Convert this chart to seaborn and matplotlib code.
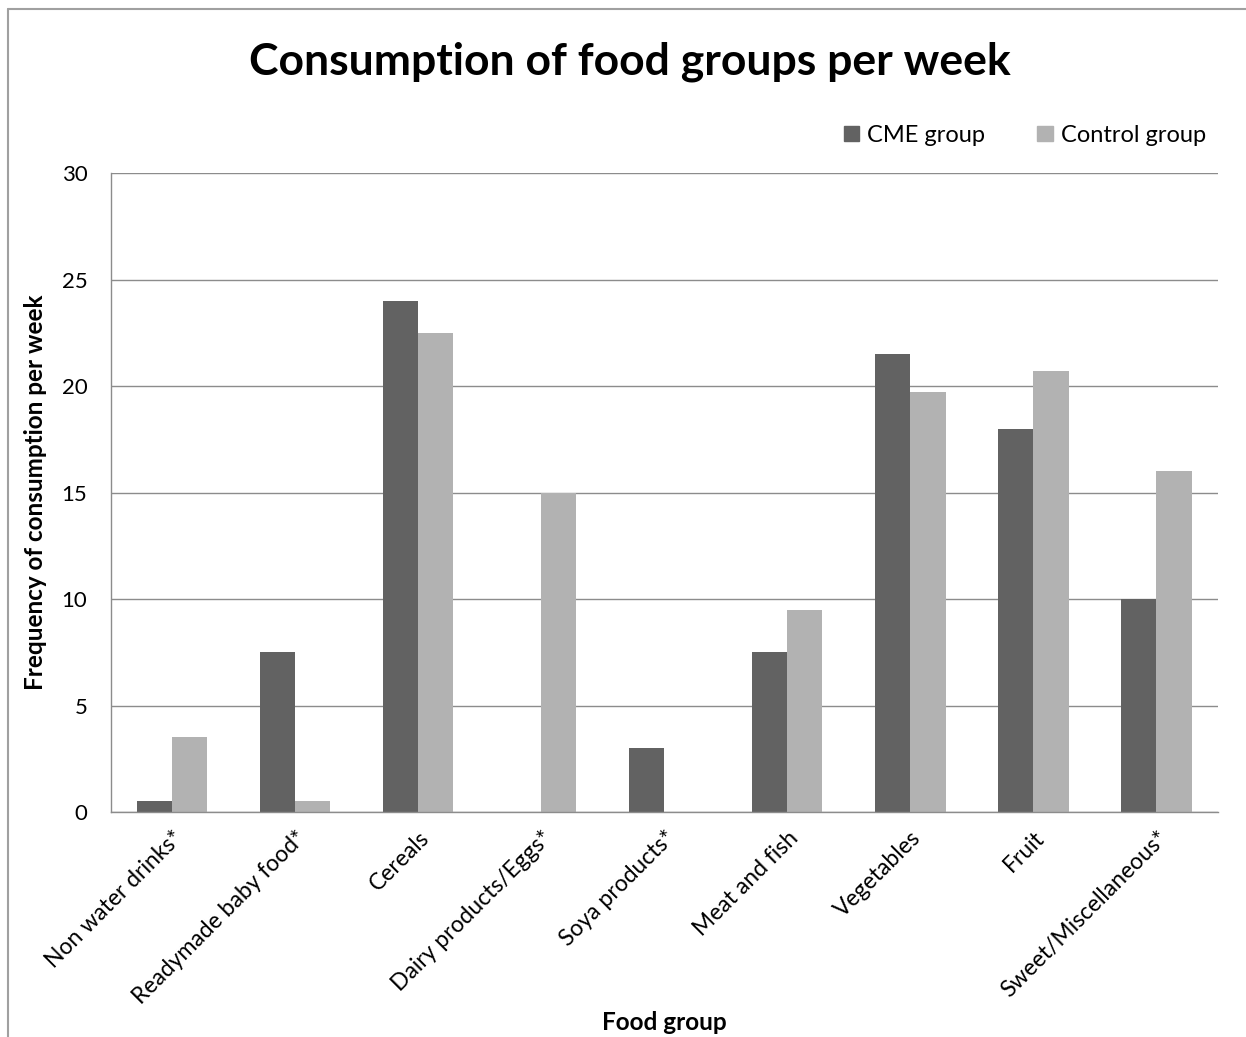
import pandas as pd
import matplotlib
matplotlib.use("Agg")
import matplotlib.pyplot as plt
import seaborn as sns
from matplotlib.lines import Line2D

# Data
food_groups = ["Non water drinks*", "Readymade baby food*", "Cereals", "Dairy products/Eggs*",
               "Soya products*", "Meat and fish", "Vegetables", "Fruit", "Sweet/Miscellaneous*"]
cme_values = [0.5, 7.5, 24, 0, 3, 7.5, 21.5, 18, 10]
control_values = [3.5, 0.5, 22.5, 15, 0, 9.5, 19.7, 20.7, 16]
groups = ["CME group", "Control group"]
colors = {"CME group": "#626262", "Control group": "#b2b2b2"}

sns.set_theme(style="white")
plt.rcParams["font.family"] = ["Lato", "DejaVu Sans"]
plt.rcParams["text.color"] = "black"
plt.rcParams["axes.labelcolor"] = "black"

df = pd.DataFrame({"food": food_groups * 2,
                   "value": cme_values + control_values,
                   "group": [groups[0]] * len(food_groups) + [groups[1]] * len(food_groups)})

fig = plt.figure(figsize=(12.46, 10.37), dpi=100)
ax = fig.add_axes([0.089, 0.217, 0.8885, 0.616])

sns.barplot(data=df, x="food", y="value", hue="group", palette=colors,
            width=0.57, saturation=1, linewidth=0, ax=ax, legend=False)

ax.set_ylim(0, 30)
ax.set_yticks(range(0, 31, 5))
ax.yaxis.grid(True, color="#8c8c8c", linewidth=1)
ax.set_axisbelow(True)
for s in ["top", "right"]:
    ax.spines[s].set_visible(False)
for s in ["left", "bottom"]:
    ax.spines[s].set_color("#8c8c8c")
    ax.spines[s].set_linewidth(1)
ax.tick_params(axis="x", length=0, labelsize=16.5, colors="black", pad=11)
ax.tick_params(axis="y", length=0, labelsize=16, colors="black", pad=17)
plt.setp(ax.get_xticklabels(), rotation=45, ha="right", rotation_mode="anchor")

ax.set_xlabel("")
ax.set_ylabel("")
fig.text(664 / 1246, 1 - 1022 / 1037, "Food group", ha="center", va="center",
         fontsize=17.5, fontweight="bold")
fig.text(36 / 1246, 1 - 492 / 1037, "Frequency of consumption per week", ha="center",
         va="center", rotation=90, fontsize=17.5, fontweight="bold")
fig.text(630 / 1246, 1 - 62 / 1037, "Consumption of food groups per week", ha="center",
         va="center", fontsize=32, fontweight="bold")

handles = [plt.Rectangle((0, 0), 1, 1, color=colors[g]) for g in groups]
ax.legend(handles, groups, loc="center right", bbox_to_anchor=(1 - 12 / 1107, 1 + 38 / 639),
          ncol=2, frameon=False, fontsize=17, handlelength=0.65, handleheight=0.65,
          handletextpad=0.35, columnspacing=2.2, borderaxespad=0, borderpad=0)

# outer chart frame
fig.add_artist(Line2D([8 / 1246, 8 / 1246], [0, 1 - 9 / 1037], color="#a0a0a0", lw=1.5,
                      transform=fig.transFigure))
fig.add_artist(Line2D([8 / 1246, 1], [1 - 9 / 1037, 1 - 9 / 1037], color="#a0a0a0", lw=1.5,
                      transform=fig.transFigure))

fig.savefig("out.png", dpi=100)
